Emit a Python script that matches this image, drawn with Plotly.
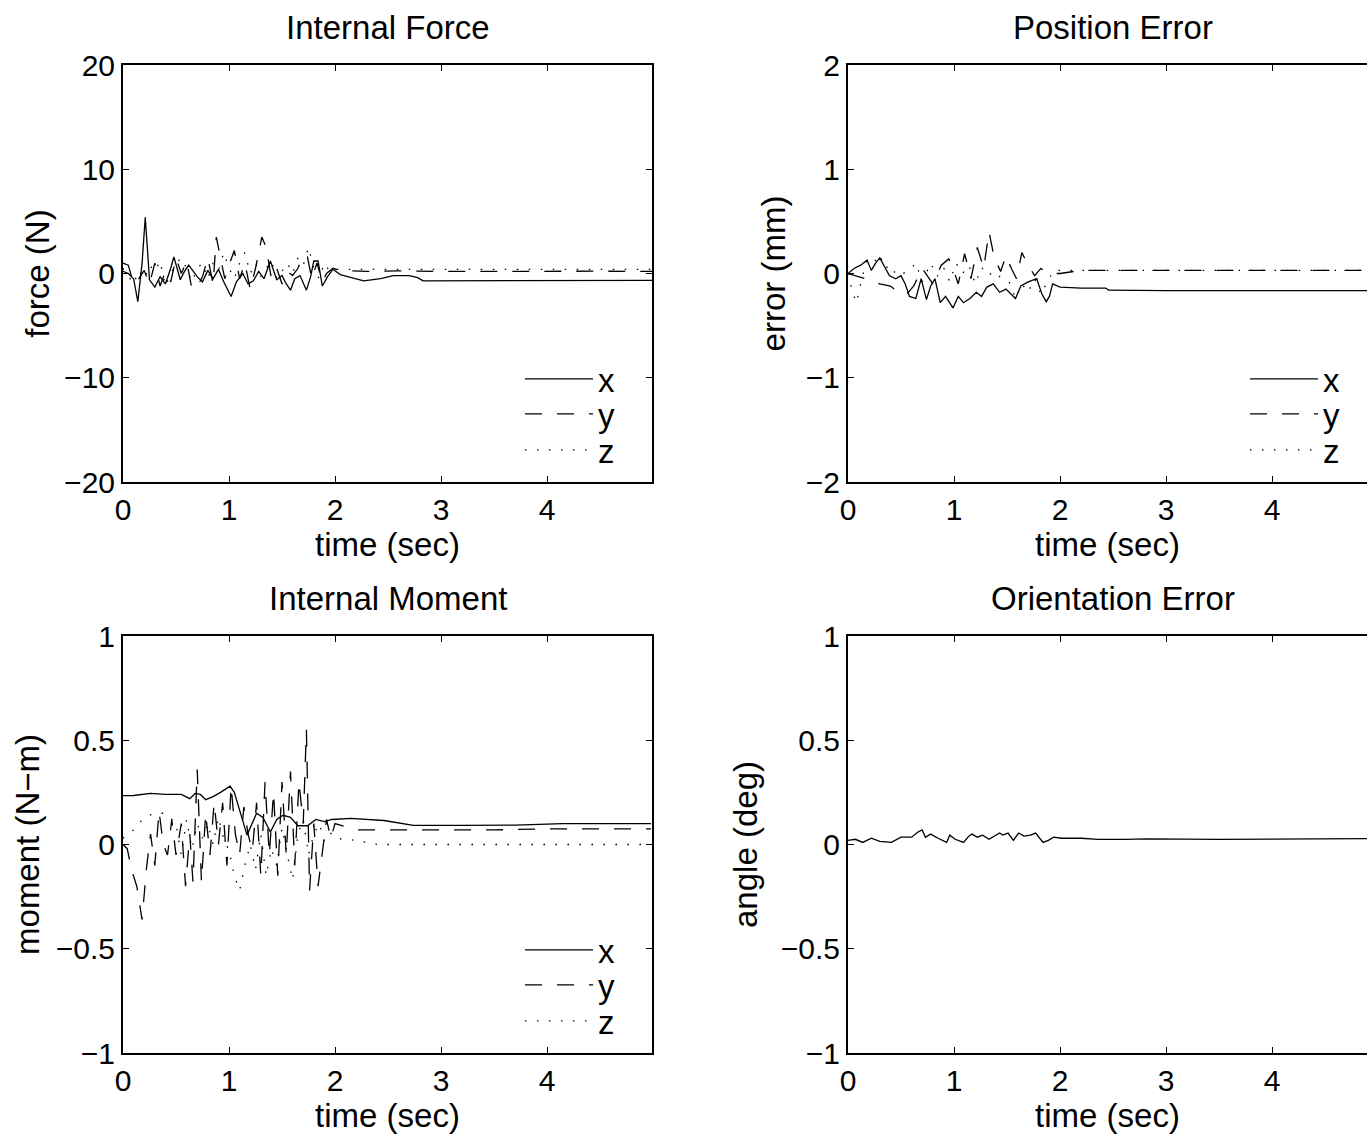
import plotly.graph_objects as go

# ---------------- data ----------------
# Internal Force (N)
force_x_t = [0.00, 0.05, 0.10, 0.14, 0.18, 0.21, 0.25, 0.30, 0.35, 0.40, 0.45, 0.48, 0.54, 0.58, 0.62, 0.66,
             0.70, 0.75, 0.80, 0.85, 0.90, 0.95, 1.02, 1.07, 1.13, 1.18, 1.23, 1.28, 1.33, 1.39, 1.45, 1.50,
             1.54, 1.58, 1.62, 1.67, 1.73, 1.77, 1.80, 1.84, 1.88, 1.93, 1.98, 2.05, 2.15, 2.27, 2.43, 2.55,
             2.70, 2.78, 2.83, 3.20, 4.99]
force_x = [0.2, 0.0, -0.5, -2.7, 1.0, 5.4, -0.6, -1.3, -0.3, -1.0, 0.5, 1.6, -0.6, 0.2, 0.8, 0.2,
           -0.3, -0.8, 0.3, -0.5, 0.4, -0.8, -2.2, -0.8, 0.0, -1.0, -0.7, 0.2, -0.5, 1.2, -0.6, -0.2,
           -1.0, -1.6, -0.5, -0.2, -1.6, -0.3, 1.2, 1.2, -1.2, -0.3, 0.4, -0.1, -0.4, -0.7, -0.5, -0.2,
           -0.2, -0.4, -0.7, -0.7, -0.65]
force_y_t = [0.00, 0.05, 0.10, 0.15, 0.20, 0.25, 0.30, 0.35, 0.40, 0.45, 0.50, 0.55, 0.60, 0.65, 0.70, 0.75,
             0.80, 0.85, 0.88, 0.92, 0.96, 1.00, 1.05, 1.10, 1.15, 1.20, 1.25, 1.31, 1.35, 1.40, 1.45, 1.50,
             1.55, 1.60, 1.65, 1.70, 1.74, 1.78, 1.83, 1.88, 1.92, 1.98, 2.05, 2.30, 2.60, 3.00, 3.50, 4.00,
             4.50, 4.99]
force_y = [1.0, 0.8, -1.0, -0.5, 0.3, -1.0, 1.0, -1.2, 0.2, -0.8, 1.5, 0.0, 1.2, -1.5, -1.3, -0.3,
           1.5, -1.0, 3.5, 1.5, -0.5, 0.8, 2.2, -0.5, 1.0, -1.5, 0.5, 3.5, 2.5, -0.5, 0.5, -1.0,
           0.2, -0.2, 0.5, 1.8, 1.6, -0.5, 1.0, -0.8, 0.0, 0.5, 0.3, 0.2, 0.25, 0.2, 0.22, 0.2,
           0.22, 0.2]
force_z_t = [0.00, 0.05, 0.10, 0.15, 0.20, 0.25, 0.30, 0.35, 0.40, 0.45, 0.50, 0.55, 0.60, 0.65, 0.70, 0.75,
             0.80, 0.85, 0.90, 0.95, 1.00, 1.05, 1.10, 1.15, 1.20, 1.25, 1.30, 1.35, 1.40, 1.45, 1.50, 1.55,
             1.60, 1.65, 1.70, 1.75, 1.80, 1.85, 1.90, 1.95, 2.00, 4.99]
force_z = [0.5, -0.2, -1.0, 0.3, -0.5, 0.8, 0.2, 1.2, -1.2, 0.0, 1.0, 1.5, 0.5, -0.8, 0.5, 1.0,
           -0.5, 1.0, 0.3, 2.0, 0.5, -0.5, 1.0, 2.0, 0.0, 1.0, -0.3, 0.5, 1.2, -0.5, 0.3, 1.0,
           0.0, 1.5, 0.8, 2.5, 0.5, -0.5, 1.0, 0.2, 0.4, 0.4]

# Position Error (mm)
pos_x_t = [0.00, 0.06, 0.12, 0.18, 0.22, 0.26, 0.30, 0.35, 0.39, 0.45, 0.50, 0.54, 0.58, 0.64, 0.69, 0.74,
           0.78, 0.82, 0.87, 0.92, 0.99, 1.04, 1.09, 1.15, 1.21, 1.26, 1.31, 1.37, 1.43, 1.49, 1.58, 1.63,
           1.70, 1.78, 1.83, 1.87, 1.90, 1.93, 2.00, 2.20, 2.43, 2.46, 3.00, 4.00, 4.90]
pos_x = [0.0, 0.05, 0.08, 0.13, 0.03, 0.10, 0.15, 0.06, -0.02, -0.05, -0.02, -0.10, -0.22, -0.24, -0.05, -0.25,
         -0.12, -0.05, -0.28, -0.22, -0.33, -0.22, -0.28, -0.24, -0.18, -0.22, -0.13, -0.10, -0.18, -0.15, -0.24, -0.12,
         -0.08, -0.05, -0.20, -0.27, -0.22, -0.10, -0.13, -0.14, -0.14, -0.16, -0.165, -0.165, -0.165]
pos_y_t = [0.00, 0.10, 0.20, 0.30, 0.40, 0.50, 0.56, 0.62, 0.70, 0.80, 0.88, 0.95, 1.00, 1.04, 1.10, 1.16,
           1.22, 1.28, 1.33, 1.38, 1.44, 1.49, 1.54, 1.59, 1.64, 1.70, 1.76, 1.82, 1.87, 1.94, 2.00, 2.20,
           2.50, 3.00, 3.50, 4.00, 4.90]
pos_y = [0.0, -0.03, -0.06, -0.10, -0.12, -0.20, -0.19, -0.12, 0.05, -0.10, 0.08, 0.14, 0.02, -0.10, 0.19, -0.05,
         0.25, 0.05, 0.40, 0.15, 0.02, 0.17, 0.05, -0.05, 0.20, 0.08, -0.02, 0.05, 0.01, 0.0, 0.0, 0.03,
         0.03, 0.03, 0.03, 0.03, 0.03]
pos_z_t = [0.00, 0.04, 0.08, 0.13, 0.18, 0.24, 0.30, 0.35, 0.40, 0.46, 0.52, 0.58, 0.64, 0.70, 0.78, 0.84,
           0.90, 0.96, 1.02, 1.08, 1.14, 1.20, 1.26, 1.32, 1.38, 1.45, 1.52, 1.58, 1.64, 1.70, 1.76, 1.82,
           1.88, 1.94, 2.00, 4.90]
pos_z = [0.0, -0.17, -0.28, -0.05, 0.13, 0.10, 0.18, 0.05, 0.08, -0.02, 0.00, 0.03, 0.10, -0.08, 0.10, -0.03,
         0.06, -0.08, 0.10, 0.00, 0.08, -0.10, 0.06, -0.02, 0.02, -0.05, -0.08, -0.24, -0.10, -0.18, -0.05, -0.20,
         -0.08, 0.03, 0.03, 0.03]

# Internal Moment (N-m)
mom_x_t = [0.00, 0.10, 0.26, 0.40, 0.55, 0.63, 0.68, 0.73, 0.78, 0.85, 0.92, 1.01, 1.05, 1.10, 1.17, 1.26,
           1.32, 1.39, 1.45, 1.51, 1.58, 1.65, 1.74, 1.82, 1.90, 1.97, 2.15, 2.46, 2.74, 3.20, 3.70, 4.15,
           4.98]
mom_x = [0.234, 0.235, 0.245, 0.24, 0.24, 0.22, 0.245, 0.24, 0.215, 0.23, 0.25, 0.28, 0.25, 0.165, 0.045, 0.15,
         0.13, 0.06, 0.12, 0.14, 0.13, 0.09, 0.09, 0.12, 0.11, 0.12, 0.125, 0.115, 0.092, 0.092, 0.093, 0.10,
         0.10]
mom_y_t = [0.00, 0.04, 0.08, 0.13, 0.18, 0.22, 0.26, 0.30, 0.34, 0.38, 0.42, 0.46, 0.50, 0.55, 0.59, 0.63,
           0.66, 0.70, 0.74, 0.78, 0.82, 0.86, 0.90, 0.94, 0.98, 1.02, 1.06, 1.10, 1.14, 1.18, 1.22, 1.26,
           1.30, 1.34, 1.38, 1.42, 1.46, 1.50, 1.54, 1.58, 1.62, 1.66, 1.70, 1.73, 1.76, 1.80, 1.84, 1.88,
           1.92, 1.96, 2.00, 2.20, 2.60, 3.00, 3.50, 4.00, 4.50, 4.98]
mom_y = [0.0, -0.02, -0.12, -0.20, -0.36, -0.12, 0.05, -0.10, 0.16, 0.0, -0.05, 0.12, -0.05, 0.10, -0.20, 0.05,
         -0.18, 0.36, -0.18, 0.15, -0.05, 0.20, 0.0, 0.20, -0.10, 0.28, 0.05, -0.05, 0.18, 0.05, -0.03, 0.20,
         -0.15, 0.30, -0.05, 0.25, -0.15, 0.30, -0.05, 0.35, -0.10, 0.30, 0.10, 0.55, -0.22, 0.10, -0.20, -0.05,
         0.12, 0.03, 0.10, 0.07, 0.07, 0.068, 0.07, 0.075, 0.075, 0.075]
mom_z_t = [0.00, 0.10, 0.20, 0.30, 0.40, 0.50, 0.55, 0.60, 0.65, 0.70, 0.75, 0.80, 0.85, 0.90, 0.95, 1.00,
           1.05, 1.10, 1.15, 1.20, 1.25, 1.30, 1.35, 1.40, 1.45, 1.50, 1.55, 1.60, 1.65, 1.70, 1.75, 1.80,
           1.85, 1.90, 1.95, 2.00, 2.20, 2.40, 4.98]
mom_z = [0.03, 0.07, 0.13, 0.15, 0.15, 0.10, -0.05, 0.12, -0.02, 0.10, 0.03, 0.10, 0.0, 0.13, 0.03, -0.03,
         -0.15, -0.22, -0.10, 0.0, -0.12, 0.05, -0.15, -0.02, -0.10, 0.08, -0.05, -0.17, 0.05, 0.12, -0.05, 0.05,
         0.10, 0.02, 0.06, 0.03, 0.02, 0.0, 0.0]

# Orientation Error (deg)
ori_t = [0.00, 0.07, 0.14, 0.22, 0.30, 0.38, 0.41, 0.50, 0.60, 0.66, 0.70, 0.73, 0.78, 0.85, 0.93, 0.96,
         1.01, 1.09, 1.14, 1.17, 1.22, 1.27, 1.33, 1.43, 1.46, 1.51, 1.56, 1.61, 1.66, 1.72, 1.77, 1.84,
         1.89, 1.94, 2.01, 2.20, 2.36, 2.60, 2.83, 3.50, 4.90]
ori = [0.02, 0.025, 0.01, 0.03, 0.015, 0.01, 0.01, 0.035, 0.035, 0.06, 0.07, 0.035, 0.05, 0.03, 0.01, 0.045,
       0.025, 0.01, 0.04, 0.05, 0.035, 0.045, 0.025, 0.055, 0.045, 0.055, 0.02, 0.055, 0.04, 0.045, 0.055, 0.01,
       0.02, 0.035, 0.03, 0.03, 0.025, 0.025, 0.027, 0.025, 0.028]

titles = ["Internal Force", "Position Error", "Internal Moment", "Orientation Error"]
ylabels = ["force (N)", "error (mm)", "moment (N\u2212m)", "angle (deg)"]
xlabel = "time (sec)"
legend_names = ["x", "y", "z"]

# ---------------- layout geometry ----------------
W, H = 1367, 1140
FONT = "Liberation Sans, Arial, Helvetica, sans-serif"
FS = 33
TFS = 30

def px_x(p):
    return p / W

def px_y(p):
    return 1 - p / H

left_dom = [px_x(123), px_x(652)]
right_dom = [px_x(848), 1.0]
top_dom = [px_y(482), px_y(65)]
bot_dom = [px_y(1053), px_y(636)]
x_full = 4.99
x_right = 4.99 * (1367 - 848) / (652 - 123)

fig = go.Figure()

styles = [dict(color="black", width=1.3),
          dict(color="black", width=1.3, dash="17px,15px"),
          dict(color="black", width=1.3, dash="1.5px,10.5px")]

# one single-entry legend per line so entries can sit as close as in the original
legend_pos = {
    1: [(520, 379), (520, 414), (520, 450)],
    2: [(1245, 379), (1245, 414), (1245, 450)],
    3: [(520, 950), (520, 985), (520, 1021)],
}

panels = [
    (1, [(force_x_t, force_x), (force_y_t, force_y), (force_z_t, force_z)]),
    (2, [(pos_x_t, pos_x), (pos_y_t, pos_y), (pos_z_t, pos_z)]),
    (3, [(mom_x_t, mom_x), (mom_y_t, mom_y), (mom_z_t, mom_z)]),
    (4, [(ori_t, ori)]),
]

legend_layouts = {}
leg_counter = 0
for idx, series in panels:
    xa = "x" if idx == 1 else f"x{idx}"
    ya = "y" if idx == 1 else f"y{idx}"
    for k, (tt, vv) in enumerate(series):
        has_leg = idx in legend_pos
        kw = {}
        if has_leg:
            leg_counter += 1
            lname = "legend" if leg_counter == 1 else f"legend{leg_counter}"
            lx, ly = legend_pos[idx][k]
            legend_layouts[lname] = dict(
                x=px_x(lx), y=px_y(ly), xanchor="left", yanchor="middle",
                bgcolor="rgba(0,0,0,0)", borderwidth=0, itemwidth=68,
                font=dict(family=FONT, size=FS, color="black"))
            kw["legend"] = lname
        fig.add_trace(go.Scatter(
            x=tt, y=vv, mode="lines", line=styles[k], name=legend_names[k],
            xaxis=xa, yaxis=ya, showlegend=has_leg, **kw))

yranges = [[-20, 20], [-2, 2], [-1, 1], [-1, 1]]
ytickvals = [[-20, -10, 0, 10, 20], [-2, -1, 0, 1, 2],
             [-1, -0.5, 0, 0.5, 1], [-1, -0.5, 0, 0.5, 1]]
ytext = [["\u221220", "\u221210", "0", "10", "20"], ["\u22122", "\u22121", "0", "1", "2"],
         ["\u22121", "\u22120.5", "0", "0.5", "1"], ["\u22121", "\u22120.5", "0", "0.5", "1"]]
xdoms = [left_dom, right_dom, left_dom, right_dom]
ydoms = [top_dom, top_dom, bot_dom, bot_dom]
xranges = [[0, x_full], [0, x_right], [0, x_full], [0, x_right]]
ystandoff = [5, 10, 6, 13]

axis_common = dict(showline=True, linecolor="black", linewidth=2, ticks="inside",
                   ticklen=6, tickwidth=1, tickcolor="black", showgrid=False, zeroline=False,
                   automargin=False,
                   tickfont=dict(family=FONT, size=TFS, color="black"))

for i in range(4):
    n = "" if i == 0 else str(i + 1)
    right = i in (1, 3)
    fig.layout["xaxis" + n] = dict(
        axis_common, domain=xdoms[i], range=xranges[i], anchor="y" + n,
        tickvals=[0, 1, 2, 3, 4], ticktext=["0", "1", "2", "3", "4"],
        mirror="allticks",
        title=dict(text=xlabel, font=dict(family=FONT, size=FS, color="black"), standoff=5))
    fig.layout["yaxis" + n] = dict(
        axis_common, domain=ydoms[i], range=yranges[i], anchor="x" + n,
        tickvals=ytickvals[i], ticktext=ytext[i],
        mirror=False if right else "allticks",
        title=dict(text=ylabels[i], font=dict(family=FONT, size=FS, color="black"),
                   standoff=ystandoff[i]))

# titles
title_y = [px_y(28), px_y(28), px_y(598), px_y(598)]
title_x = [px_x(388), px_x(1113), px_x(388), px_x(1113)]
for i in range(4):
    fig.add_annotation(text=titles[i], x=title_x[i], y=title_y[i], xref="paper", yref="paper",
                       xanchor="center", yanchor="middle", showarrow=False,
                       font=dict(family=FONT, size=FS, color="black"))

fig.update_layout(**legend_layouts)
fig.update_layout(width=W, height=H, margin=dict(l=0, r=0, t=0, b=0),
                  paper_bgcolor="white", plot_bgcolor="white",
                  font=dict(family=FONT, size=FS, color="black"))

fig.write_html("out.html")
